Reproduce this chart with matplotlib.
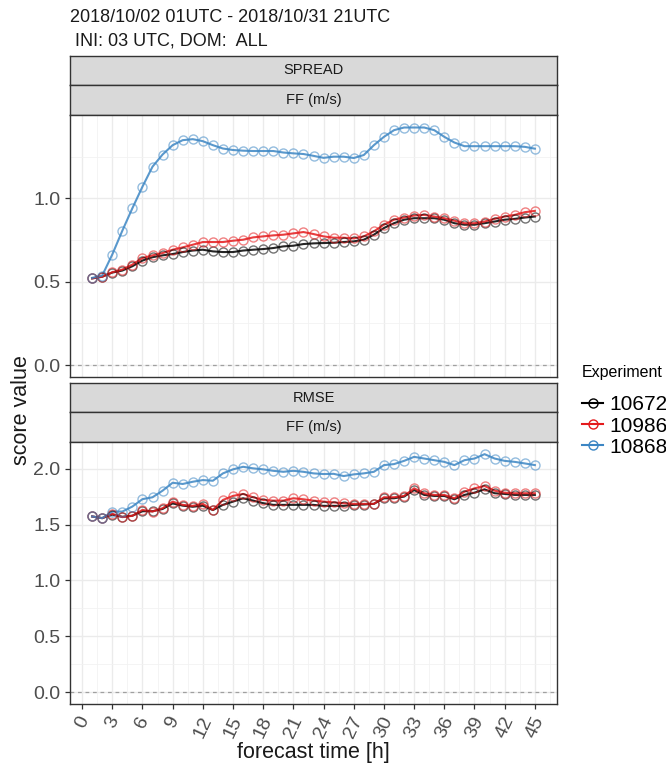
import numpy as np
import matplotlib.pyplot as plt
from matplotlib.lines import Line2D

plt.rcParams['font.family'] = ['Liberation Sans', 'DejaVu Sans']

# --- data: forecast hours 1..45 ---
hours = list(range(1, 46))
experiments = ["10672", "10986", "10868"]
colors = ["#000000", "#E41A1C", "#3C86C4"]

spread_10672 = [0.52, 0.53, 0.555, 0.567, 0.593, 0.627, 0.647, 0.658, 0.666, 0.678,
                0.687, 0.692, 0.682, 0.678, 0.678, 0.687, 0.692, 0.696, 0.702, 0.712,
                0.716, 0.726, 0.730, 0.732, 0.734, 0.738, 0.742, 0.752, 0.782, 0.822,
                0.851, 0.872, 0.881, 0.881, 0.881, 0.872, 0.851, 0.842, 0.842, 0.851,
                0.861, 0.872, 0.877, 0.885, 0.891]
spread_10986 = [0.52, 0.53, 0.557, 0.573, 0.603, 0.642, 0.658, 0.672, 0.692, 0.706,
                0.722, 0.738, 0.738, 0.738, 0.746, 0.752, 0.766, 0.772, 0.778, 0.782,
                0.790, 0.798, 0.786, 0.772, 0.764, 0.764, 0.760, 0.772, 0.802, 0.842,
                0.872, 0.885, 0.897, 0.901, 0.891, 0.881, 0.866, 0.851, 0.851, 0.861,
                0.877, 0.891, 0.901, 0.917, 0.925]
spread_10868 = [0.523, 0.537, 0.663, 0.806, 0.941, 1.070, 1.190, 1.263, 1.319, 1.349,
                1.355, 1.343, 1.319, 1.299, 1.290, 1.286, 1.284, 1.284, 1.284, 1.275,
                1.270, 1.266, 1.255, 1.243, 1.250, 1.250, 1.242, 1.260, 1.319, 1.369,
                1.409, 1.425, 1.425, 1.425, 1.409, 1.369, 1.335, 1.313, 1.313, 1.313,
                1.313, 1.313, 1.313, 1.309, 1.298]

rmse_10672 = [1.573, 1.558, 1.59, 1.57, 1.58, 1.62, 1.62, 1.64, 1.69, 1.67,
              1.66, 1.67, 1.63, 1.677, 1.706, 1.736, 1.715, 1.692, 1.677, 1.677,
              1.677, 1.677, 1.677, 1.668, 1.668, 1.668, 1.677, 1.680, 1.686, 1.736,
              1.736, 1.751, 1.810, 1.766, 1.757, 1.757, 1.727, 1.766, 1.786, 1.816,
              1.781, 1.775, 1.766, 1.766, 1.766]
rmse_10986 = [1.573, 1.558, 1.597, 1.567, 1.579, 1.632, 1.617, 1.647, 1.706, 1.677,
              1.668, 1.686, 1.632, 1.721, 1.757, 1.775, 1.745, 1.721, 1.715, 1.715,
              1.736, 1.727, 1.715, 1.706, 1.699, 1.692, 1.686, 1.686, 1.686, 1.745,
              1.745, 1.757, 1.825, 1.781, 1.766, 1.766, 1.736, 1.795, 1.825, 1.846,
              1.804, 1.786, 1.781, 1.781, 1.781]
rmse_10868 = [1.573, 1.558, 1.617, 1.617, 1.662, 1.728, 1.745, 1.804, 1.875, 1.864,
              1.884, 1.899, 1.893, 1.959, 1.995, 2.018, 2.004, 1.995, 1.982, 1.973,
              1.982, 1.973, 1.959, 1.953, 1.955, 1.935, 1.950, 1.959, 1.973, 2.033,
              2.042, 2.071, 2.107, 2.092, 2.077, 2.062, 2.033, 2.077, 2.092, 2.131,
              2.092, 2.071, 2.062, 2.048, 2.033]

panels = [
    ("SPREAD", "FF (m/s)", [spread_10672, spread_10986, spread_10868], 1.50),
    ("RMSE", "FF (m/s)", [rmse_10672, rmse_10986, rmse_10868], 2.24),
]

W, H = 666, 769
fig = plt.figure(figsize=(W / 100, H / 100), dpi=100)


def fx(px):
    return px / W


def fy(py):
    return 1 - py / H


left, right = 70, 557
# (strip1 top, strip2 top, panel top, panel bottom)
layout = [(56, 85, 115, 377), (383, 412, 442, 704)]
strip_col = "#D9D9D9"
edge_col = "#333333"

for (s1, s2, vals, ytop), (t1, t2, ptop, pbot) in zip(panels, layout):
    # strips
    for lab, a, b in [(s1, t1, t2), (s2, t2, ptop)]:
        sax = fig.add_axes([fx(left), fy(b), fx(right - left), (b - a) / H])
        sax.set_facecolor(strip_col)
        sax.set_xticks([])
        sax.set_yticks([])
        for sp in sax.spines.values():
            sp.set_color(edge_col)
            sp.set_linewidth(1.0)
        sax.text(0.5, 0.5, lab, ha="center", va="center", fontsize=10.5,
                 color="#1A1A1A", transform=sax.transAxes)

    ax = fig.add_axes([fx(left), fy(pbot), fx(right - left), (pbot - ptop) / H])
    ax.set_xlim(-1.2, 47.2)
    ymin = -ytop * 0.05 / 1.05
    ax.set_ylim(ymin, ytop)
    ax.set_xticks(np.arange(0, 46, 3))
    ax.set_xticks(np.arange(1.5, 47, 3), minor=True)
    ax.set_yticks(np.arange(0, ytop, 0.5))
    ax.set_yticks(np.arange(0.25, ytop, 0.5), minor=True)
    ax.grid(True, which="major", color="#EBEBEB", linewidth=1.0)
    ax.grid(True, which="minor", color="#F2F2F2", linewidth=0.6)
    ax.set_axisbelow(True)
    ax.axhline(0, color="#A0A0A0", linestyle=(0, (3, 3)), linewidth=0.9, zorder=1)
    for sp in ax.spines.values():
        sp.set_color(edge_col)
        sp.set_linewidth(1.0)
    ax.tick_params(which="minor", length=0)
    ax.tick_params(which="major", length=3.5, width=0.9, color=edge_col,
                   labelcolor="#4D4D4D", labelsize=14)
    ax.yaxis.set_major_formatter(plt.FuncFormatter(lambda v, p: f"{v:.1f}"))

    for series, c in zip(vals, colors):
        ax.plot(hours, series, color=c, linewidth=1.5, alpha=0.85, zorder=3)
        ax.plot(hours, series, linestyle="none", marker="o", markersize=6.5,
                markerfacecolor="none", markeredgecolor=c, markeredgewidth=1.0,
                alpha=0.55, zorder=4)

    if s1 == "SPREAD":
        ax.tick_params(axis="x", bottom=False, labelbottom=False)
    else:
        for lbl in ax.get_xticklabels():
            lbl.set_rotation(65)
            lbl.set_ha("center")
            lbl.set_va("top")
        ax.set_xlabel("forecast time [h]", fontsize=15.5, color="#1A1A1A", labelpad=1)

fig.text(fx(70), fy(22), "2018/10/02 01UTC - 2018/10/31 21UTC", fontsize=13,
         color="#1A1A1A", ha="left", va="baseline")
fig.text(fx(70), fy(45), " INI: 03 UTC, DOM:  ALL", fontsize=13,
         color="#1A1A1A", ha="left", va="baseline")
fig.text(fx(22), fy(410), "score value", fontsize=15.5, color="#1A1A1A",
         rotation=90, ha="center", va="center")

# legend
handles = [Line2D([0], [0], color=c, linewidth=1.5, marker="o", markersize=6.5,
                  markerfacecolor="none", markeredgewidth=1.0)
           for c in colors]
leg = fig.legend(handles, experiments, title="Experiment", loc="upper left",
                 bbox_to_anchor=(fx(578), fy(361)), frameon=False, fontsize=15,
                 title_fontsize=11.5, handlelength=1.0, handletextpad=0.3,
                 labelspacing=0.1, borderpad=0.2, borderaxespad=0)
leg._legend_box.align = "left"
leg._legend_box.sep = 11

fig.savefig("out.png", dpi=100)
